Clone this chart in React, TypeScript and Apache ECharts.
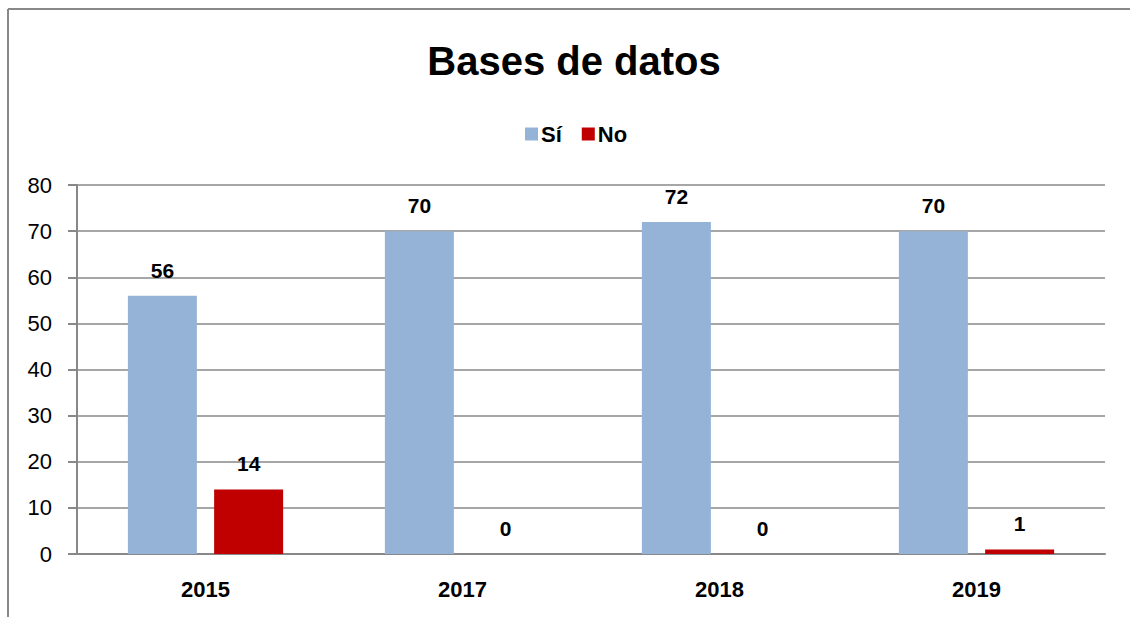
import React, { useEffect, useRef } from "react";
import * as echarts from "echarts";

const categories = ["2015", "2017", "2018", "2019"];
const siValues = [56, 70, 72, 70];
const noValues = [14, 0, 0, 1];
const yTicks = [0, 10, 20, 30, 40, 50, 60, 70, 80];

const FONT = "'Liberation Sans', Arial, sans-serif";

export default function App() {
  const ref = useRef<HTMLDivElement>(null);
  useEffect(() => {
    if (!ref.current) return;
    const chart = echarts.init(ref.current, undefined, { renderer: "svg" });
    const label = {
      show: true,
      position: "top",
      distance: 15,
      fontFamily: FONT,
      fontWeight: "bold",
      fontSize: 21,
      color: "#000",
    };
    chart.setOption({
      animation: false,
      backgroundColor: "#fff",
      title: {
        text: "Bases de datos",
        left: 569,
        textAlign: "center",
        top: 36,
        textStyle: { fontFamily: FONT, fontWeight: "bold", fontSize: 40, color: "#000" },
      },
      legend: {
        top: 118,
        left: 520,
        itemWidth: 13,
        itemHeight: 13,
        itemGap: 20,
        icon: "rect",
        textStyle: { fontFamily: FONT, fontWeight: "bold", fontSize: 22, color: "#000", padding: [0, 0, 0, -2] },
        data: ["Sí", "No"],
      },
      grid: { left: 77, right: 25, top: 185, bottom: 63 },
      xAxis: {
        type: "category",
        data: categories,
        axisLine: { show: true, lineStyle: { color: "#888", width: 2 } },
        axisTick: { show: false },
        axisLabel: { fontFamily: FONT, fontWeight: "bold", fontSize: 22, color: "#000", margin: 24 },
      },
      yAxis: {
        type: "value",
        min: yTicks[0],
        max: yTicks[yTicks.length - 1],
        interval: 10,
        axisLine: { show: true, lineStyle: { color: "#888", width: 2 } },
        axisTick: { show: true, length: 9, lineStyle: { color: "#888", width: 2 } },
        splitLine: { show: true, lineStyle: { color: "#888", width: 1.5 } },
        axisLabel: { fontFamily: FONT, fontSize: 22, color: "#000", margin: 25 },
      },
      series: [
        {
          name: "Sí",
          type: "bar",
          data: siValues,
          barWidth: 69,
          barGap: "25%",
          itemStyle: { color: "#95B3D7" },
          label,
        },
        {
          name: "No",
          type: "bar",
          data: noValues,
          barWidth: 69,
          itemStyle: { color: "#C00000" },
          label,
        },
      ],
      graphic: [
        { type: "line", shape: { x1: 8, y1: 9, x2: 1130, y2: 9 }, style: { stroke: "#888", lineWidth: 2 } },
        { type: "line", shape: { x1: 8, y1: 9, x2: 8, y2: 617 }, style: { stroke: "#888", lineWidth: 2 } },
      ],
    });
    return () => chart.dispose();
  }, []);
  return <div ref={ref} style={{ position: "fixed", left: 0, top: 0, width: 1130, height: 617 }} />;
}
